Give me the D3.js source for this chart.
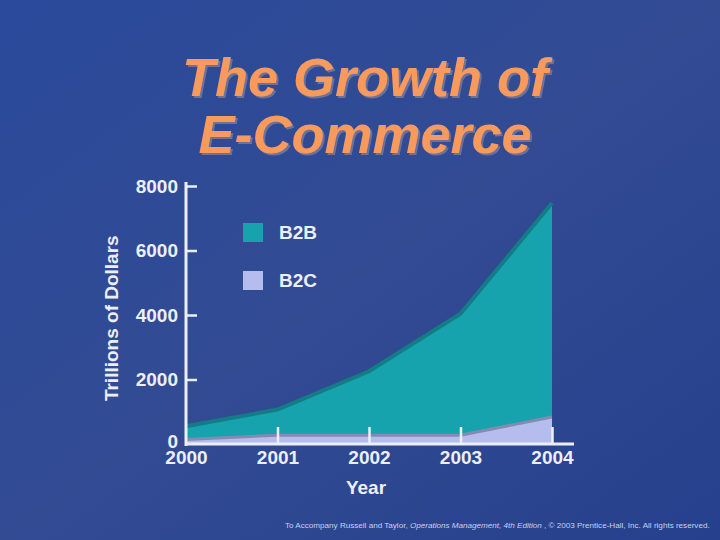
<!DOCTYPE html>
<html>
<head>
<meta charset="utf-8">
<script src="https://cdn.jsdelivr.net/npm/d3@7"></script>
<style>
  body { margin: 0; background: #2b4894; }
  svg text { font-family: "Liberation Sans", Arial, sans-serif; }
</style>
</head>
<body>
<svg id="chart" width="720" height="540"></svg>
<script>
// Data (trillions of dollars)
const years = [2000, 2001, 2002, 2003, 2004];
const b2c = [140, 270, 270, 270, 840];
const b2b = [410, 800, 1985, 3770, 6630];
const yTicks = [0, 2000, 4000, 6000, 8000];
const seriesNames = ["B2B", "B2C"];

const svg = d3.select("#chart");

// Background gradient
const defs = svg.append("defs");
const bg = defs.append("linearGradient").attr("id", "bg")
  .attr("x1", 0).attr("y1", 0).attr("x2", 1).attr("y2", 1);
bg.append("stop").attr("offset", "0%").attr("stop-color", "#2a4a9b");
bg.append("stop").attr("offset", "50%").attr("stop-color", "#324b93");
bg.append("stop").attr("offset", "100%").attr("stop-color", "#26408d");
svg.append("rect").attr("width", 720).attr("height", 540).attr("fill", "url(#bg)");

// Title: shadow drawn as a filter so it is one text per line
const shadow = defs.append("filter").attr("id", "shadow")
  .attr("x", "-5%").attr("y", "-5%").attr("width", "110%").attr("height", "120%");
shadow.append("feDropShadow")
  .attr("dx", 2).attr("dy", 2).attr("stdDeviation", 0)
  .attr("flood-color", "#6d7398").attr("flood-opacity", 1);

const titleLines = ["The Growth of", "E-Commerce"];
titleLines.forEach((t, i) => {
  svg.append("text")
    .attr("x", 365).attr("y", 96 + i * 57)
    .attr("text-anchor", "middle")
    .attr("font-size", 54).attr("font-weight", "bold").attr("font-style", "italic")
    .attr("fill", "#f79a5c")
    .attr("filter", "url(#shadow)")
    .text(t);
});

// Scales
const x = d3.scaleLinear().domain([2000, 2004]).range([186, 552]);
const y = d3.scaleLinear().domain([0, 8000]).range([444, 186]);

const rows = years.map((yr, i) => ({ year: yr, B2C: b2c[i], B2B: b2b[i] }));
const stacked = d3.stack().keys(["B2C", "B2B"])(rows);
const c2c = stacked[0];
const b2bStack = stacked[1];

// B2B area (from zero up to stacked total)
const areaB2B = d3.area()
  .x((d, i) => x(years[i]))
  .y0(y(0))
  .y1(d => y(d[1]));
const lineB2B = d3.line()
  .x((d, i) => x(years[i]))
  .y(d => y(d[1]));

svg.append("path").datum(b2bStack)
  .attr("d", areaB2B).attr("fill", "#16a3ae");
svg.append("path").datum(b2bStack)
  .attr("d", lineB2B).attr("fill", "none")
  .attr("stroke", "#137c86").attr("stroke-width", 4);

// B2C area
const areaB2C = d3.area()
  .x((d, i) => x(years[i]))
  .y0(y(0))
  .y1(d => y(d[1]));
const lineB2C = d3.line()
  .x((d, i) => x(years[i]))
  .y(d => y(d[1]));

svg.append("path").datum(c2c)
  .attr("d", areaB2C).attr("fill", "#b5bdee");
svg.append("path").datum(c2c)
  .attr("d", lineB2C).attr("fill", "none")
  .attr("stroke", "#858bb0").attr("stroke-width", 3);

// Axes
const axisColor = "#eceff9";

const yAxis = svg.append("g")
  .attr("transform", `translate(${x(2000)},0)`)
  .call(d3.axisLeft(y).tickValues(yTicks).tickFormat(d3.format("d"))
    .tickSize(-11).tickSizeOuter(0).tickPadding(8));
yAxis.select(".domain").remove();
yAxis.selectAll(".tick line").attr("stroke", axisColor).attr("stroke-width", 2.5)
  .filter(d => d === 0).remove();
yAxis.selectAll(".tick text")
  .attr("fill", axisColor).attr("font-size", 19).attr("font-weight", "bold")
  .attr("font-family", "'Liberation Sans', Arial, sans-serif");
yAxis.selectAll(".tick text").filter(d => d === 0).attr("dy", "0.2em");

const xAxis = svg.append("g")
  .attr("transform", `translate(0,${y(0)})`)
  .call(d3.axisBottom(x).tickValues(years).tickFormat(d3.format("d"))
    .tickSize(-17).tickSizeOuter(0).tickPadding(7));
xAxis.select(".domain").remove();
xAxis.selectAll(".tick line").attr("stroke", axisColor).attr("stroke-width", 2.5)
  .filter(d => d === 2000).remove();
xAxis.selectAll(".tick text")
  .attr("fill", axisColor).attr("font-size", 19).attr("font-weight", "bold")
  .attr("font-family", "'Liberation Sans', Arial, sans-serif");

// Axis lines
svg.append("line")
  .attr("x1", x(2000)).attr("x2", x(2000))
  .attr("y1", y(8000) - 4).attr("y2", y(0) + 2)
  .attr("stroke", axisColor).attr("stroke-width", 3);
svg.append("line")
  .attr("x1", x(2000) - 1).attr("x2", x(2004) + 22)
  .attr("y1", y(0)).attr("y2", y(0))
  .attr("stroke", axisColor).attr("stroke-width", 3);

// Axis titles
svg.append("text")
  .attr("transform", `translate(118,${y(3900)}) rotate(-90)`)
  .attr("text-anchor", "middle")
  .attr("font-size", 19).attr("font-weight", "bold").attr("fill", axisColor)
  .text("Trillions of Dollars");
svg.append("text")
  .attr("x", x(2002) - 3).attr("y", 494)
  .attr("text-anchor", "middle")
  .attr("font-size", 19).attr("font-weight", "bold").attr("fill", axisColor)
  .text("Year");

// Legend
const legendColors = ["#16a3ae", "#b5bdee"];
seriesNames.forEach((name, i) => {
  svg.append("rect")
    .attr("x", 243).attr("y", 223 + i * 48)
    .attr("width", 20).attr("height", 19)
    .attr("fill", legendColors[i]);
  svg.append("text")
    .attr("x", 279).attr("y", 239 + i * 48)
    .attr("font-size", 19).attr("font-weight", "bold").attr("fill", axisColor)
    .text(name);
});

// Footer
const footer = svg.append("text")
  .attr("x", 285).attr("y", 528)
  .attr("font-size", 8.1).attr("fill", "#c8d0ee");
footer.append("tspan").text("To Accompany Russell and Taylor,  ");
footer.append("tspan").attr("font-style", "italic").text("Operations Management, 4th Edition");
footer.append("tspan").text(" , \u00a9 2003 Prentice-Hall, Inc. All rights reserved.");
</script>
</body>
</html>
